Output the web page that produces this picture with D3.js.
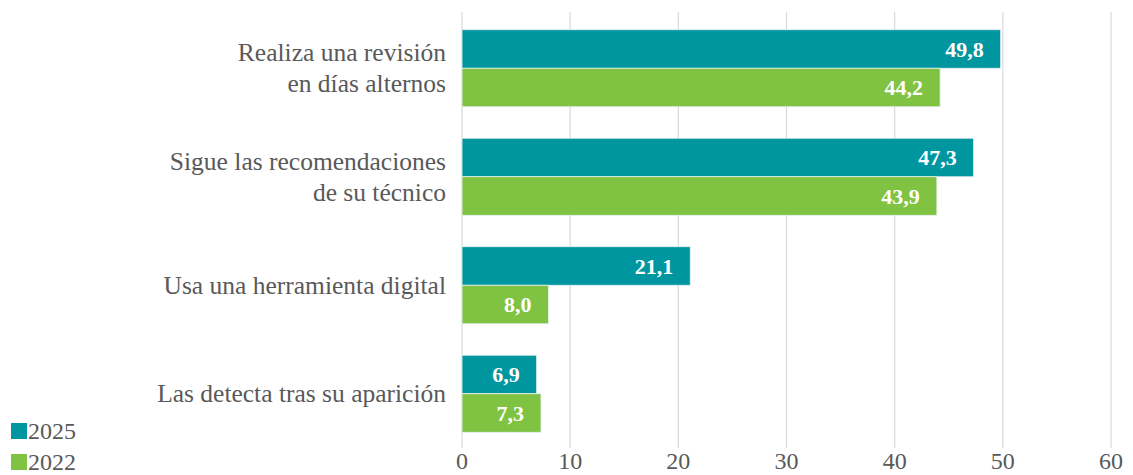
<!DOCTYPE html>
<html lang="es">
<head>
  <meta charset="utf-8">
  <title>Revisión</title>
  <script src="https://d3js.org/d3.v7.min.js"></script>
  <style>
    body { margin: 0; padding: 0; background: #fff; }
    svg text { font-family: "Liberation Serif", "DejaVu Serif", serif; }
  </style>
</head>
<body>
  <svg id="chart" width="1133" height="475"></svg>
  <script>
    const categories = [
      ["Realiza una revisión", "en días alternos"],
      ["Sigue las recomendaciones", "de su técnico"],
      ["Usa una herramienta digital"],
      ["Las detecta tras su aparición"]
    ];
    const series = ["2025", "2022"];
    const values2025 = [49.8, 47.3, 21.1, 6.9];
    const values2022 = [44.2, 43.9, 8.0, 7.3];
    const ticks = [0, 10, 20, 30, 40, 50, 60];
    const colors = ["#0096a0", "#80c241"];

    const svg = d3.select("#chart");

    const x = d3.scaleLinear().domain([0, 60]).range([462, 1111]);
    const y = d3.scaleBand()
      .domain(d3.range(categories.length))
      .range([14, 448])
      .paddingInner(0.29)
      .paddingOuter(0.145);
    const ySub = d3.scaleBand().domain(series).range([0, y.bandwidth()]);

    // gridlines
    svg.append("g")
      .selectAll("line")
      .data(ticks)
      .join("line")
      .attr("x1", d => x(d)).attr("x2", d => x(d))
      .attr("y1", 12).attr("y2", 448)
      .attr("stroke", "#d9d9d9")
      .attr("stroke-width", 1.2);

    // x tick labels
    svg.append("g")
      .selectAll("text")
      .data(ticks)
      .join("text")
      .attr("x", d => x(d))
      .attr("y", 469)
      .attr("text-anchor", "middle")
      .attr("fill", "#595959")
      .attr("font-size", 24)
      .text(d => d);

    const rows = categories.map((c, i) => ({ i, vals: [values2025[i], values2022[i]] }));

    const groups = svg.append("g")
      .selectAll("g")
      .data(rows)
      .join("g")
      .attr("transform", d => `translate(0,${y(d.i)})`);

    groups.selectAll("rect")
      .data(d => d.vals.map((v, k) => ({ v, k })))
      .join("rect")
      .attr("x", x(0))
      .attr("y", d => ySub(series[d.k]))
      .attr("width", d => x(d.v) - x(0))
      .attr("height", ySub.bandwidth())
      .attr("fill", d => colors[d.k])
      .attr("stroke", "#e6f0f0")
      .attr("stroke-width", 0.8);

    groups.selectAll("text.val")
      .data(d => d.vals.map((v, k) => ({ v, k })))
      .join("text")
      .attr("class", "val")
      .attr("x", d => x(d.v) - 17)
      .attr("y", d => ySub(series[d.k]) + ySub.bandwidth() / 2)
      .attr("dy", "0.35em")
      .attr("text-anchor", "end")
      .attr("fill", "#fff")
      .attr("font-weight", "bold")
      .attr("font-size", 22)
      .text(d => d3.format(".1f")(d.v).replace(".", ","));

    // category labels
    svg.append("g")
      .selectAll("text")
      .data(categories)
      .join("text")
      .attr("text-anchor", "end")
      .attr("fill", "#595959")
      .attr("font-size", 25.5)
      .each(function(lines, i) {
        const cy = y(i) + y.bandwidth() / 2;
        const lh = 31;
        const start = cy - (lines.length - 1) * lh / 2;
        d3.select(this).selectAll("tspan")
          .data(lines)
          .join("tspan")
          .attr("x", 446)
          .attr("y", (d, j) => start + j * lh)
          .attr("dy", "0.33em")
          .text(d => d);
      });

    // legend
    const legend = svg.append("g")
      .selectAll("g")
      .data(series)
      .join("g")
      .attr("transform", (d, i) => `translate(11,${423 + i * 31})`);
    legend.append("rect")
      .attr("width", 16).attr("height", 16)
      .attr("fill", (d, i) => colors[i]);
    legend.append("text")
      .attr("x", 17).attr("y", 16)
      .attr("fill", "#595959")
      .attr("font-size", 24)
      .text(d => d);
  </script>
</body>
</html>
